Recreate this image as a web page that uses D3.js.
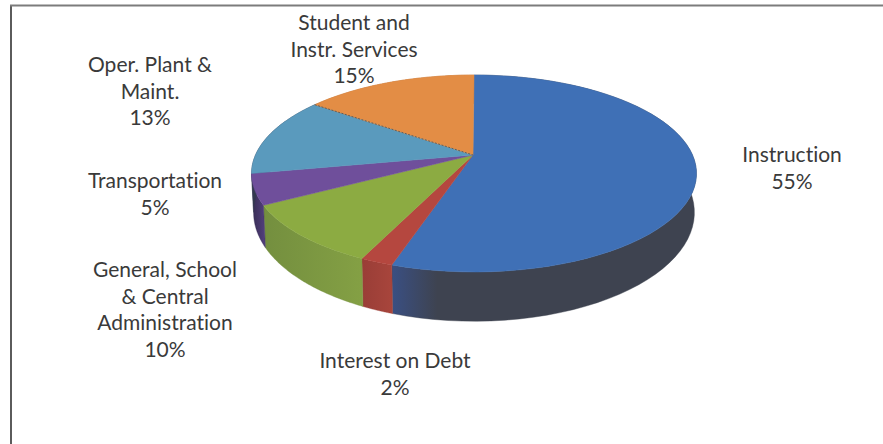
<!DOCTYPE html>
<html>
<head>
<meta charset="utf-8">
<style>
  html, body { margin: 0; padding: 0; background: #fff; }
  svg { display: block; }
  text { font-family: Lato, "Open Sans", sans-serif; font-size: 21px; fill: #3a3a3a; text-anchor: middle; font-variant-ligatures: none; }
</style>
<script src="https://cdn.jsdelivr.net/npm/d3@7/dist/d3.min.js"></script>
</head>
<body>
<svg id="chart" width="883" height="444"></svg>
<script>
// Budget shares, clockwise from twelve o'clock
const categories = ["Instruction", "Interest on Debt", "General, School & Central Administration", "Transportation", "Oper. Plant & Maint.", "Student and Instr. Services"];
const shares = [55, 2, 10, 5, 13, 15];
const faceColors = ["#3f70b6", "#b5473f", "#8cab42", "#6f4f9b", "#5a9abd", "#e38d45"];
const wallLight = ["#3a4f82", "#a8453c", "#84a044", "#54407f", "#33394f", "#c97a38"];
const wallDark = ["#3e4350", "#9a3e37", "#748f3f", "#3a2f58", "#33394f", "#b0682f"];
const labelLines = [
  ["Instruction", "55%"],
  ["Interest on Debt", "2%"],
  ["General, School", "& Central", "Administration", "10%"],
  ["Transportation", "5%"],
  ["Oper. Plant &", "Maint.", "13%"],
  ["Student and", "Instr. Services", "15%"]
];
const labelAnchors = [[792, 162], [395, 368], [165, 277], [155, 188], [150, 72], [354, 30]];

const svg = d3.select("#chart");
const slices = d3.pie().sort(null).value(d => d)(shares);

// Tilted disc: perspective from the plane of the pie to the screen
const cx = 474, tilt = 0.1878;
const topDisc = { x: 218.5, y: 95, y0: 155 };
const baseDisc = { x: 216.5, y: 105, y0: 192 };
function project(disc, angle, r = 1) {
  const u = r * Math.sin(angle), v = -r * Math.cos(angle);
  const w = 1 / (1 - tilt * v);
  return [cx + disc.x * u * w, disc.y0 + disc.y * v * w];
}
const line = d3.line().curve(d3.curveLinear);
const rim = (disc, a0, a1) => d3.range(0, 65).map(i => project(disc, a0 + (a1 - a0) * i / 64));

// Frame: heavier left rule, softer top rule
svg.append("path").attr("d", "M11,444V5").attr("fill", "none").attr("stroke", "#4a4a4a").attr("stroke-width", 1.8);
svg.append("path").attr("d", "M10,5.5H883").attr("fill", "none").attr("stroke", "#7c7c7c").attr("stroke-width", 2);

// Side wall shading
const defs = svg.append("defs");
slices.forEach((s, i) => {
  const a = project(baseDisc, s.startAngle), b = project(baseDisc, s.endAngle);
  const g = defs.append("linearGradient").attr("id", "wall" + i)
    .attr("gradientUnits", "userSpaceOnUse")
    .attr("x1", Math.min(a[0], b[0])).attr("x2", Math.max(a[0], b[0])).attr("y1", 0).attr("y2", 0);
  g.append("stop").attr("offset", 0).attr("stop-color", i === 0 ? wallLight[i] : wallDark[i]);
  g.append("stop").attr("offset", i === 0 ? 0.55 : 1).attr("stop-color", i === 0 ? wallDark[i] : wallLight[i]);
});

// Walls go down first, the top face covers whatever falls behind it
svg.append("g").selectAll("path").data(slices).join("path")
  .attr("d", s => line(rim(topDisc, s.startAngle, s.endAngle).concat(rim(baseDisc, s.startAngle, s.endAngle).reverse())) + "Z")
  .attr("fill", (s, i) => `url(#wall${i})`)
  .attr("stroke", (s, i) => wallDark[i]).attr("stroke-width", 0.4);

svg.append("g").selectAll("path").data(slices).join("path")
  .attr("d", s => line([[cx - 1, topDisc.y0]].concat(rim(topDisc, s.startAngle, s.endAngle))) + "Z")
  .attr("fill", (s, i) => faceColors[i])
  .attr("stroke", (s, i) => faceColors[i]).attr("stroke-width", 0.5);

// Dashed seam between the last two slices
const seam = slices[5];
svg.append("path")
  .attr("d", line([project(topDisc, seam.startAngle), [cx - 1, topDisc.y0]]))
  .attr("fill", "none").attr("stroke", "#5c5f60").attr("stroke-width", 1).attr("stroke-dasharray", "2 1.5");

// Labels
svg.append("g").selectAll("text").data(labelLines).join("text")
  .attr("transform", (d, i) => `translate(${labelAnchors[i][0]},${labelAnchors[i][1]})`)
  .selectAll("tspan").data(d => d).join("tspan")
  .attr("x", 0).attr("y", (d, i) => i * 26.5).text(d => d);
</script>
</body>
</html>
